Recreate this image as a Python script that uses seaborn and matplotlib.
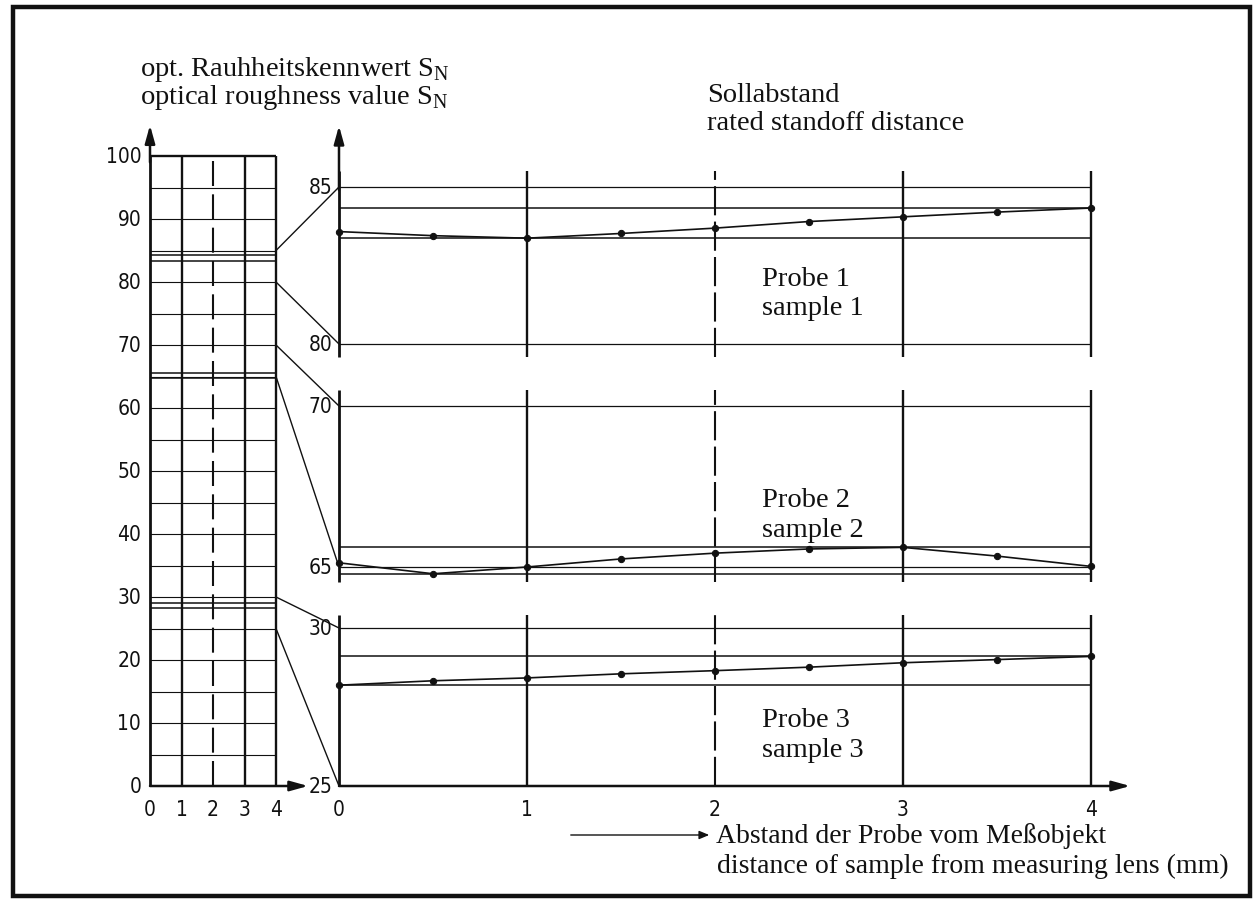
import numpy as np
import pandas as pd
import matplotlib
matplotlib.use("Agg")
import matplotlib.pyplot as plt
import seaborn as sns
from matplotlib.patches import ConnectionPatch, Rectangle
from matplotlib import font_manager

# ---------------- data ----------------
distance = [0, 0.5, 1, 1.5, 2, 2.5, 3, 3.5, 4]
sample1 = [83.58, 83.45, 83.37, 83.52, 83.69, 83.90, 84.05, 84.20, 84.33]
sample2 = [65.13, 64.79, 65.00, 65.25, 65.43, 65.56, 65.61, 65.34, 65.02]
sample3 = [28.19, 28.33, 28.42, 28.55, 28.65, 28.76, 28.90, 29.00, 29.10]
samples = [sample1, sample2, sample3]
sample_names = [("Probe 1", "sample 1"), ("Probe 2", "sample 2"), ("Probe 3", "sample 3")]
panel_ranges = [(80, 85), (65, 70), (25, 30)]
left_yticks = [0, 10, 20, 30, 40, 50, 60, 70, 80, 90, 100]
left_grid = list(range(5, 100, 5))
x_ticks = [0, 1, 2, 3, 4]

# ---------------- style ----------------
sns.set_theme(style="white")
plt.rcParams['font.family'] = ['Liberation Serif', 'DejaVu Serif']
plt.rcParams['mathtext.fontset'] = 'custom'
plt.rcParams['mathtext.rm'] = 'Liberation Serif'

names = {f.name for f in font_manager.fontManager.ttflist}
condensed = [f for f in font_manager.fontManager.ttflist
             if f.name == 'DejaVu Sans' and 'ondensed' in f.fname
             and f.style == 'normal' and f.weight in (400, 'normal')
             and 'Oblique' not in f.fname and 'Bold' not in f.fname]
if 'Liberation Sans Narrow' in names:
    tick_font = dict(family=['Liberation Sans Narrow'], fontsize=15.5)
elif condensed:
    tick_font = dict(fontproperties=font_manager.FontProperties(fname=condensed[0].fname, size=15))
else:
    tick_font = dict(family=['DejaVu Sans'], fontsize=15)

W, H = 1259, 904
fig = plt.figure(figsize=(W / 100, H / 100), dpi=100)
fig.patch.set_facecolor('white')
K = '#111111'


def tick_text(ax, x, y, s, ha):
    ax.text(x, y, s, ha=ha, va='center', color=K, **tick_font)


def add_axes(x0, x1, ytop, ybot):
    ax = fig.add_axes([x0 / W, 1 - ybot / H, (x1 - x0) / W, (ybot - ytop) / H])
    ax.set_axis_off()
    return ax


def arrow(ax, start, end, lw=1.8):
    ax.annotate('', xy=end, xytext=start, xycoords='data', textcoords='data',
                arrowprops=dict(arrowstyle='-|>,head_length=0.9,head_width=0.25',
                                color=K, lw=lw, shrinkA=0, shrinkB=0),
                annotation_clip=False)


# ---------------- left overview panel ----------------
axL = add_axes(150, 276, 157, 787)
axL.set_xlim(0, 4)
axL.set_ylim(0, 100)
for v in left_grid:
    axL.hlines(v, 0, 4, color=K, lw=0.8, clip_on=False)
axL.hlines(100, 0, 4, color=K, lw=1.7, clip_on=False)
for s in samples:
    axL.hlines([min(s), max(s)], 0, 4, color=K, lw=1.1, clip_on=False)
for xv in [1, 3, 4]:
    axL.vlines(xv, 0, 100, color=K, lw=1.7, clip_on=False)
axL.vlines(2, 0, 100, color=K, lw=1.5, linestyles=(0, (12, 4)), clip_on=False)
axL.vlines(0, 0, 100, color=K, lw=2.0, clip_on=False)
arrow(axL, (0, 99), (0, 104.9))
arrow(axL, (0, 0), (5.02, 0))
for t in left_yticks:
    tick_text(axL, -0.28, t, str(t), 'right')
for t in x_ticks:
    tick_text(axL, t, -3.6, str(t), 'center')

# ---------------- zoomed panels ----------------
panel_px = [(188, 345), (407, 568), (629, 787)]
ext = [(79.59, 85.5), (64.53, 70.5), (25.0, 30.41)]
axes = []
for i, ((ytop, ybot), (lo, hi), s) in enumerate(zip(panel_px, panel_ranges, samples)):
    ax = add_axes(339, 1090.7, ytop, ybot)
    ax.set_xlim(0, 4)
    ax.set_ylim(lo, hi)
    axes.append(ax)
    e_lo, e_hi = ext[i]
    ax.hlines(hi, 0, 4, color=K, lw=0.9, clip_on=False)
    if i < 2:
        ax.hlines(lo, 0, 4, color=K, lw=0.9, clip_on=False)
    ax.hlines([min(s), max(s)], 0, 4, color=K, lw=1.1, clip_on=False)
    for xv in [1, 3, 4]:
        ax.vlines(xv, e_lo, e_hi, color=K, lw=1.7, clip_on=False)
    ax.vlines(2, e_lo, e_hi, color=K, lw=1.5, linestyles=(0, (14, 3)), clip_on=False)
    ax.vlines(0, e_lo, e_hi, color=K, lw=2.0, clip_on=False)
    df = pd.DataFrame({'distance': distance, 'value': s})
    sns.lineplot(data=df, x='distance', y='value', ax=ax, color=K, lw=1.2,
                 marker='o', markersize=4.5, markeredgecolor=K, clip_on=False)
    ax.set_axis_off()
    for v in (lo, hi):
        tick_text(ax, -0.035, v, str(v), 'right')
    top_lbl, bot_lbl = sample_names[i]
    yr = hi - lo
    ax.text(2.25, lo + yr * 0.42, top_lbl, ha='left', va='center', fontsize=20.5, color=K)
    ax.text(2.25, lo + yr * 0.23, bot_lbl, ha='left', va='center', fontsize=20.5, color=K)

# arrows of zoom axes
arrow(axes[0], (0, 84.9), (0, 86.95))
p3 = axes[2]
arrow(p3, (0, 25), (4.21, 25))
for t in x_ticks:
    tick_text(p3, t, 24.27, str(t), 'center')

# connecting lines between overview and zoom panels
for ax, (lo, hi) in zip(axes, panel_ranges):
    for v in (hi, lo):
        con = ConnectionPatch(xyA=(4, v), coordsA=axL.transData,
                              xyB=(0, v), coordsB=ax.transData,
                              color=K, lw=1.0)
        fig.add_artist(con)

# ---------------- texts ----------------
def ftext(px, py, s, **kw):
    fig.text(px / W, 1 - py / H, s, color=K, **kw)

ftext(140, 70, r'opt. Rauhheitskennwert S$_\mathregular{N}$', ha='left', va='center', fontsize=20.5)
ftext(140, 98, r'optical roughness value S$_\mathregular{N}$', ha='left', va='center', fontsize=20.5)
ftext(707, 95, 'Sollabstand', ha='left', va='center', fontsize=20.5)
ftext(707, 123, 'rated standoff distance', ha='left', va='center', fontsize=20.5)
ftext(716, 836, 'Abstand der Probe vom Meßobjekt', ha='left', va='center', fontsize=20)
ftext(717, 866, 'distance of sample from measuring lens (mm)', ha='left', va='center', fontsize=20)
fig.add_artist(matplotlib.patches.FancyArrowPatch(
    (568 / W, 1 - 836 / H), (712 / W, 1 - 836 / H), transform=fig.transFigure,
    arrowstyle='-|>,head_length=6,head_width=2.5', color=K, lw=1.0, mutation_scale=1))

# frame
fig.add_artist(Rectangle((13 / W, 1 - 897 / H), (1250 - 13) / W, (897 - 8) / H,
                         transform=fig.transFigure, fill=False, edgecolor=K, lw=3.2))

fig.savefig('out.png', dpi=100, facecolor='white')
